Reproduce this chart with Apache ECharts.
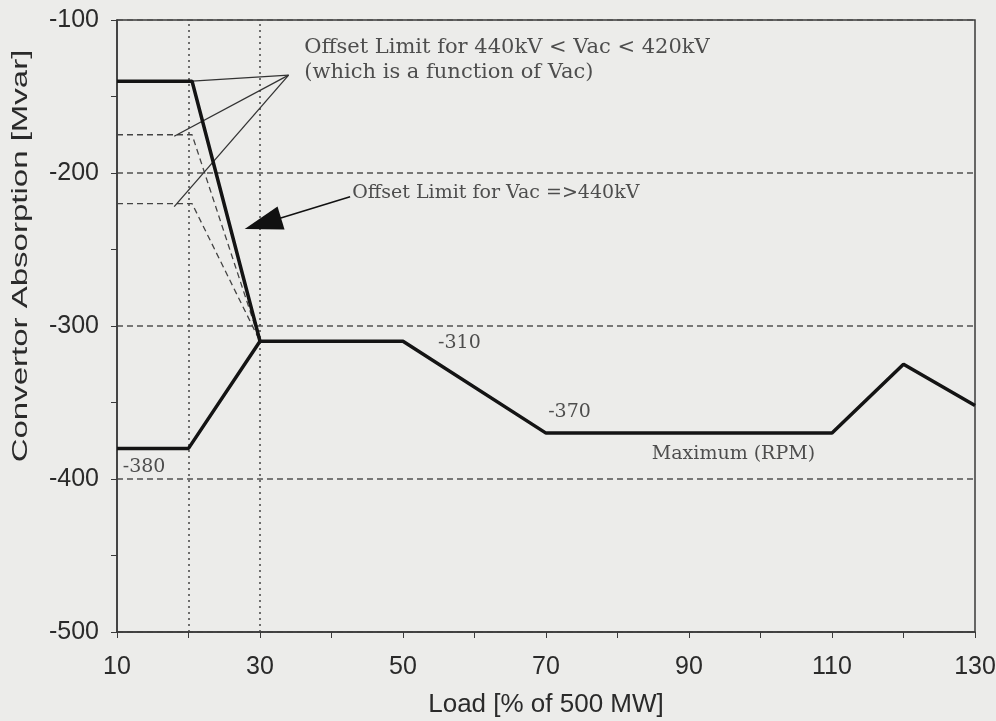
<!DOCTYPE html>
<html>
<head>
<meta charset="utf-8">
<title>Convertor Absorption</title>
<script src="https://cdn.jsdelivr.net/npm/echarts@6/dist/echarts.min.js"></script>
<style>
  html, body { margin: 0; padding: 0; background: #ececea; }
  #chart { width: 996px; height: 721px; }
</style>
</head>
<body>
<div id="chart"></div>
<script>
// load in % of 500 MW, absorption in Mvar
const limitLoad = [10, 20.5, 30, 50, 70, 110, 120, 130];
const limitMvar = [-140, -140, -310, -310, -370, -370, -325, -352];
const minLoad = [10, 20, 30];
const minMvar = [-380, -380, -310];
const offsetLoad = [10, 20.5, 30];
const offsetUpperMvar = [-175, -175, -310];
const offsetLowerMvar = [-220, -220, -310];
const guideLoads = [20, 30];

// leader lines from the upper note, and the arrow of the lower note
const leaderFrom = [34, -136];
const leaderTo = [[20.5, -140], [18, -176], [18, -222]];
const arrowFrom = [42.6, -215.5];
const arrowHead = [30.4, -233];

const noteText = [
  'Offset Limit for 440kV < Vac < 420kV',
  '(which is a function of Vac)',
  'Offset Limit for Vac =>440kV',
  '-310', '-370', '-380', 'Maximum (RPM)'
];
const noteLoad = [36.2, 36.2, 42.9, 54.9, 70.3, 10.8, 84.8];
const noteMvar = [-118, -134.6, -213, -311, -356, -392, -384];
const noteSize = [21, 21, 19, 19, 19, 19, 19];

const zip = (xs, ys) => xs.map((x, i) => [x, ys[i]]);

const chart = echarts.init(document.getElementById('chart'));

const thick = { color: '#141414', width: 3.5 };
const thinDash = { color: '#444', width: 1.3, type: [6, 4] };
const axisColor = '#3a3a3a';

chart.setOption({
  animation: false,
  backgroundColor: '#ececea',
  grid: {
    left: 117, right: 21, top: 20, bottom: 89,
    containLabel: false,
    outerBoundsMode: 'none',
    show: true, borderColor: axisColor, borderWidth: 1.5
  },
  xAxis: {
    type: 'value',
    min: 10, max: 130, interval: 20,
    name: 'Load [% of 500 MW]',
    nameLocation: 'middle',
    nameGap: 60,
    nameTextStyle: { fontFamily: 'Liberation Sans', fontSize: 26, color: '#2a2a2a' },
    axisLine: { show: true, onZero: false, lineStyle: { color: axisColor, width: 1.5 } },
    axisTick: { show: true, length: 6, lineStyle: { color: axisColor } },
    minorTick: { show: true, splitNumber: 2, length: 6, lineStyle: { color: axisColor } },
    axisLabel: { margin: 23, fontFamily: 'Liberation Sans', fontSize: 25, color: '#2a2a2a' },
    splitLine: { show: false }
  },
  yAxis: {
    type: 'value',
    min: -500, max: -100, interval: 100,
    axisLine: { show: true, lineStyle: { color: axisColor, width: 1.5 } },
    axisTick: { show: true, length: 6, lineStyle: { color: axisColor } },
    minorTick: { show: true, splitNumber: 2, length: 6, lineStyle: { color: axisColor } },
    axisLabel: { margin: 18, fontFamily: 'Liberation Sans', fontSize: 25, color: '#2a2a2a' },
    splitLine: { show: true, lineStyle: { color: '#505050', width: 1.5, type: [6, 4] } }
  },
  graphic: [{
    type: 'text',
    x: 21, y: 256,
    rotation: Math.PI / 2,
    scaleX: 1.5,
    style: {
      text: 'Convertor Absorption [Mvar]',
      font: '22px "Liberation Sans"',
      fill: '#2a2a2a',
      align: 'center',
      verticalAlign: 'middle'
    }
  }],
  series: [
    {
      name: 'Offset limit',
      type: 'line',
      data: zip(limitLoad, limitMvar),
      symbol: 'none',
      lineStyle: thick,
      silent: true,
      z: 5,
      markLine: {
        silent: true,
        symbol: 'none',
        label: { show: false },
        lineStyle: { color: '#444', width: 1.5, type: [2, 4] },
        data: guideLoads.map(v => ({ xAxis: v }))
      }
    },
    {
      name: 'Minimum',
      type: 'line',
      data: zip(minLoad, minMvar),
      symbol: 'none',
      lineStyle: thick,
      silent: true,
      z: 5
    },
    {
      name: 'Offset upper',
      type: 'line',
      data: zip(offsetLoad, offsetUpperMvar),
      symbol: 'none',
      lineStyle: thinDash,
      silent: true,
      markLine: {
        silent: true,
        symbol: 'none',
        label: { show: false },
        lineStyle: { color: '#333', width: 1.3, type: 'solid' },
        data: leaderTo.map(p => [{ coord: leaderFrom }, { coord: p }])
      }
    },
    {
      name: 'Offset lower',
      type: 'line',
      data: zip(offsetLoad, offsetLowerMvar),
      symbol: 'none',
      lineStyle: thinDash,
      silent: true,
      markLine: {
        silent: true,
        symbol: 'none',
        label: { show: false },
        lineStyle: { color: '#111', width: 1.5, type: 'solid' },
        data: [[{ coord: arrowFrom }, { coord: arrowHead }]]
      },
      markPoint: {
        silent: true,
        symbol: 'triangle',
        symbolSize: [24, 38],
        symbolRotate: 107,
        label: { show: false },
        itemStyle: { color: '#111' },
        data: [{ coord: arrowHead }]
      }
    },
    {
      name: 'Notes',
      type: 'scatter',
      symbolSize: 0,
      silent: true,
      z: 6,
      data: noteText.map((t, i) => ({
        value: [noteLoad[i], noteMvar[i]],
        label: { formatter: t, fontSize: noteSize[i] }
      })),
      label: {
        show: true,
        position: 'right',
        distance: 0,
        fontFamily: 'DejaVu Serif',
        color: '#262626'
      }
    }
  ]
});
</script>
</body>
</html>
